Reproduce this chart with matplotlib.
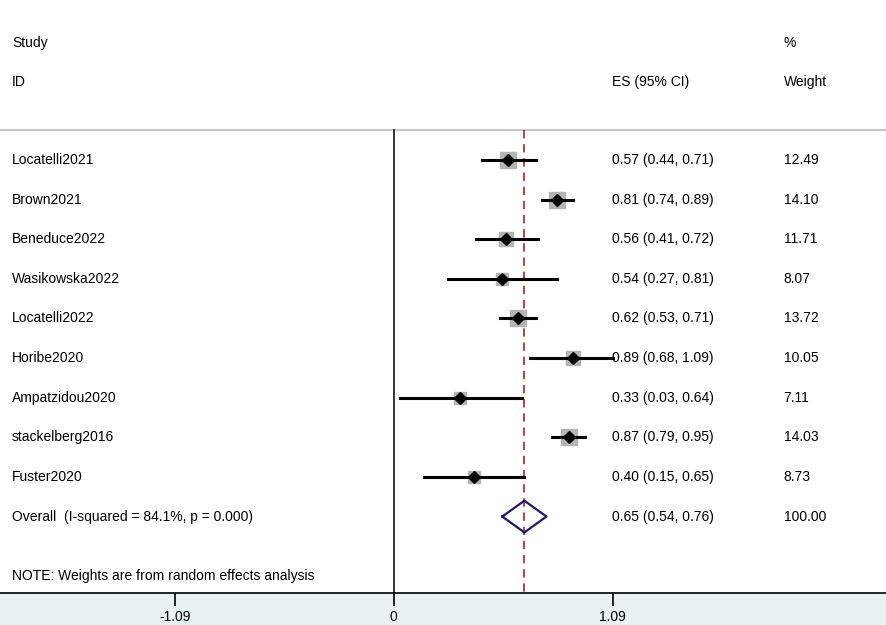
import matplotlib
matplotlib.use("Agg")
import matplotlib.pyplot as plt
import numpy as np

studies = ["Locatelli2021", "Brown2021", "Beneduce2022", "Wasikowska2022",
           "Locatelli2022", "Horibe2020", "Ampatzidou2020", "stackelberg2016",
           "Fuster2020"]
es = [0.57, 0.81, 0.56, 0.54, 0.62, 0.89, 0.33, 0.87, 0.40]
lo = [0.44, 0.74, 0.41, 0.27, 0.53, 0.68, 0.03, 0.79, 0.15]
hi = [0.71, 0.89, 0.72, 0.81, 0.71, 1.09, 0.64, 0.95, 0.65]
weights = [12.49, 14.10, 11.71, 8.07, 13.72, 10.05, 7.11, 14.03, 8.73]
overall = (0.65, 0.54, 0.76)
overall_label = "Overall  (I-squared = 84.1%, p = 0.000)"
xticks = [-1.09, 0, 1.09]

plt.rcParams["font.family"] = ["Liberation Sans", "DejaVu Sans"]
FS = 10

fig = plt.figure(figsize=(8.86, 6.25), dpi=100)
fig.patch.set_facecolor("#eaf1f4")
ax = fig.add_axes([0, 32 / 625, 1, 593 / 625])
ax.set_facecolor("white")
ax.set_xlim(-1.96, 2.45)
ax.set_ylim(10.93, -4.04)

n = len(studies)
y = np.arange(n)
x_name, x_es, x_w = -1.90, 1.085, 1.94
hdr = -0.76

# header
ax.text(x_name, -2.95, "Study", fontsize=FS, va="center")
ax.text(x_name, -1.97, "ID", fontsize=FS, va="center")
ax.text(x_es, -1.97, "ES (95% CI)", fontsize=FS, va="center")
ax.text(x_w, -2.95, "%", fontsize=FS, va="center")
ax.text(x_w, -1.97, "Weight", fontsize=FS, va="center")
ax.axhline(hdr, color="#c8c8c8", lw=1.5)

# reference lines
ax.plot([0, 0], [hdr, 10.93], color="black", lw=1.1)
ax.plot([overall[0]] * 2, [hdr, 10.93], color="#a0262b", lw=1.2,
        ls=(0, (5, 3.5)))

# studies
wmax = max(weights)
for i in range(n):
    ax.plot([lo[i], hi[i]], [y[i], y[i]], color="black", lw=2.2, zorder=3)
    side = 16 * np.sqrt(weights[i] / wmax)
    ax.plot(es[i], y[i], marker="s", ms=side * 0.72, color="#b4b4b4",
            mec="#b4b4b4", zorder=2)
    ax.plot(es[i], y[i], marker="D", ms=6, color="black", zorder=4)
    ax.text(x_name, y[i], studies[i], fontsize=FS, va="center")
    ax.text(x_es, y[i], f"{es[i]:.2f} ({lo[i]:.2f}, {hi[i]:.2f})",
            fontsize=FS, va="center")
    ax.text(x_w, y[i], f"{weights[i]:.2f}", fontsize=FS, va="center")

# overall diamond
yo = n
dx = [overall[1], overall[0], overall[2], overall[0], overall[1]]
dy = [yo, yo - 0.4, yo, yo + 0.4, yo]
ax.plot(dx, dy, color="#1c1c6b", lw=1.6, zorder=4)
ax.text(x_name, yo, overall_label, fontsize=FS, va="center")
ax.text(x_es, yo, f"{overall[0]:.2f} ({overall[1]:.2f}, {overall[2]:.2f})",
        fontsize=FS, va="center")
ax.text(x_w, yo, "100.00", fontsize=FS, va="center")

ax.text(x_name, 10.5, "NOTE: Weights are from random effects analysis",
        fontsize=FS, va="center")

for s in ["top", "left", "right"]:
    ax.spines[s].set_visible(False)
ax.spines["bottom"].set_linewidth(1.2)
ax.set_yticks([])
ax.set_xticks(xticks)
ax.set_xticklabels([f"{t:g}" for t in xticks], fontsize=FS)
ax.tick_params(axis="x", length=9, width=1.2, pad=3)

fig.savefig("out.png", dpi=100, facecolor=fig.get_facecolor())
